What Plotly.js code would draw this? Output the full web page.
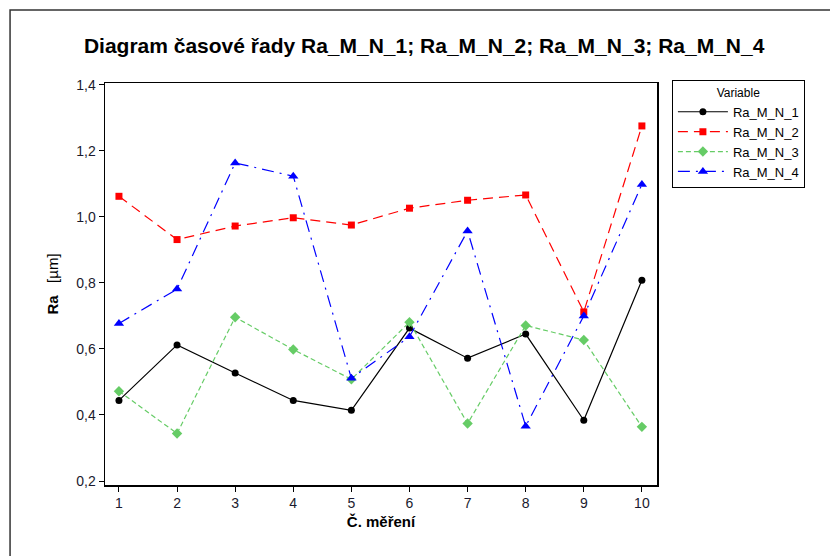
<!DOCTYPE html>
<html>
<head>
<meta charset="utf-8">
<script src="https://cdn.plot.ly/plotly-3.0.1.min.js"></script>
<style>html,body{margin:0;padding:0;background:#fff;}#chart{width:830px;height:556px;}</style>
</head>
<body>
<div id="chart"></div>
<script>
const measurements = [1, 2, 3, 4, 5, 6, 7, 8, 9, 10];
const seriesNames = ["Ra_M_N_1", "Ra_M_N_2", "Ra_M_N_3", "Ra_M_N_4"];
const ra1 = [0.444, 0.612, 0.527, 0.444, 0.414, 0.663, 0.572, 0.645, 0.384, 0.808];
const ra2 = [1.062, 0.931, 0.972, 0.997, 0.975, 1.026, 1.050, 1.066, 0.712, 1.275];
const ra3 = [0.472, 0.344, 0.696, 0.598, 0.508, 0.681, 0.374, 0.671, 0.627, 0.364];
const ra4 = [0.677, 0.781, 1.163, 1.123, 0.511, 0.637, 0.957, 0.366, 0.700, 1.098];
const yTicks = [0.2, 0.4, 0.6, 0.8, 1.0, 1.2, 1.4];

const styles = [
  {color: "#000000", symbol: "circle", dash: "solid", size: 7},
  {color: "#ff0000", symbol: "square", dash: "10px,6px", size: 7},
  {color: "#66cc66", symbol: "diamond", dash: "5px,3px", size: 8},
  {color: "#0000ff", symbol: "triangle-up", dash: "12px,6px,2px,6px", size: 9}
];
const values = [ra1, ra2, ra3, ra4];
const traces = values.map((v, i) => ({
  x: measurements, y: v, name: seriesNames[i], type: "scatter", mode: "lines+markers",
  line: {color: styles[i].color, width: 1.2, dash: styles[i].dash},
  marker: {color: styles[i].color, symbol: styles[i].symbol, size: styles[i].size}
}));

const font = "Arial, 'Liberation Sans', sans-serif";
const layout = {
  width: 830, height: 556,
  paper_bgcolor: "#ffffff", plot_bgcolor: "#ffffff",
  separators: ",.",
  margin: {l: 105, r: 173, t: 83, b: 71},
  font: {family: font, size: 14, color: "#000000"},
  title: {text: "<b>Diagram časové řady Ra_M_N_1; Ra_M_N_2; Ra_M_N_3; Ra_M_N_4</b>",
          font: {family: font, size: 21, color: "#000"},
          x: 0.511, xref: "container", xanchor: "center", y: 0.918, yanchor: "middle"},
  xaxis: {range: [0.76, 10.26], tickvals: measurements, ticks: "outside", ticklen: 5,
          tickcolor: "#000", showline: true, linecolor: "#000", linewidth: 1.5, mirror: true,
          showgrid: false, zeroline: false,
          title: {text: "<b>Č. měření</b>", font: {size: 15}, standoff: 6},
          tickfont: {size: 14, color: "#1a1a2e"}},
  yaxis: {range: [0.188, 1.405], tickvals: yTicks, tickformat: ".1f", ticks: "outside", ticklen: 5,
          tickcolor: "#000", showline: true, linecolor: "#000", linewidth: 1.5, mirror: true,
          showgrid: false, zeroline: false,
          title: {text: "<b>Ra</b>   [µm]", font: {size: 15}, standoff: 14},
          tickfont: {size: 14, color: "#1a1a2e"}},
  legend: {x: 1.027, y: 1.007, xanchor: "left", yanchor: "top",
           bordercolor: "#000", borderwidth: 1, bgcolor: "#fff",
           font: {size: 13}, tracegroupgap: 0, itemwidth: 50, entrywidth: 140,
           title: {text: "Variable", side: "top center", font: {size: 12}}},
  shapes: [{type: "rect", xref: "paper", yref: "paper", x0: -0.172, x1: 1.5, y0: -0.4, y1: 1.1816,
            line: {color: "#333", width: 1.5}, fillcolor: "rgba(0,0,0,0)", layer: "below"}],
  showlegend: true
};
Plotly.newPlot("chart", traces, layout, {staticPlot: true, displayModeBar: false});
</script>
</body>
</html>
